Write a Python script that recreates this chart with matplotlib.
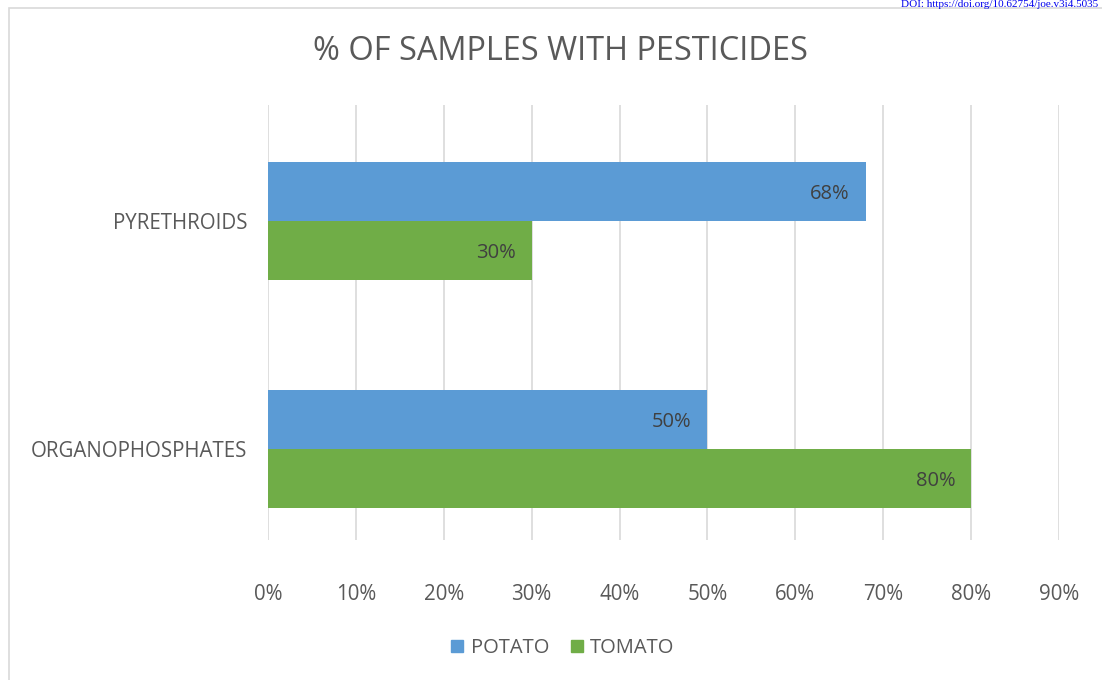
import matplotlib
matplotlib.use("Agg")
import matplotlib.pyplot as plt
from matplotlib.patches import Rectangle
import numpy as np

categories = ["ORGANOPHOSPHATES", "PYRETHROIDS"]
potato = [50, 68]
tomato = [80, 30]
series_names = ["POTATO", "TOMATO"]
xticks = [0, 10, 20, 30, 40, 50, 60, 70, 80, 90]

plt.rcParams['font.family'] = ['Open Sans', 'DejaVu Sans']
W, H = 1102, 680
fig = plt.figure(figsize=(W/100, H/100), dpi=100)

# outer chart border
fig.patches.append(Rectangle((9/W, -0.01), 1.1, 1 - 8/H + 0.01, transform=fig.transFigure,
                             fill=False, edgecolor='#D9D9D9', linewidth=1.2))
fig.text(1098/W, 1 - 7/H, "DOI: https://doi.org/10.62754/joe.v3i4.5035", fontsize=8,
         family='Liberation Serif', color='#0000EE', va='baseline', ha='right')

ax = fig.add_axes([268/W, 1 - 540/H, (1059-268)/W, (540-105)/H])
y = np.arange(len(categories))
h = 0.259
blue, green = '#5B9BD5', '#70AD47'
b1 = ax.barh(y + h/2, potato, height=h, color=blue, label=series_names[0], zorder=3)
b2 = ax.barh(y - h/2, tomato, height=h, color=green, label=series_names[1], zorder=3)

for bars, vals in ((b1, potato), (b2, tomato)):
    for bar, v in zip(bars, vals):
        ax.text(v - 1.8, bar.get_y() + bar.get_height()/2 - 0.012, f"{v}%", ha='right', va='center',
                fontsize=14.5, color='#404040', zorder=4)

ax.set_xlim(0, 90)
ax.set_ylim(-0.4, 1.509)
ax.set_xticks(xticks)
ax.set_xticklabels([f"{t}%" for t in xticks])
ax.set_yticks(y)
ax.set_yticklabels(categories)
ax.tick_params(axis='both', length=0, labelsize=14.8, labelcolor='#595959')
ax.tick_params(axis='x', pad=32)
ax.tick_params(axis='y', pad=15)
ax.grid(axis='x', color='#D9D9D9', linewidth=1.2, zorder=0)
for s in ax.spines.values():
    s.set_visible(False)

fig.text(560/W, 1 - 52/H, "% OF SAMPLES WITH PESTICIDES", ha='center', va='center',
         fontsize=23.4, color='#595959')

handles = [Rectangle((0, 0), 1, 1, color=blue), Rectangle((0, 0), 1, 1, color=green)]
fig.legend(handles, series_names, loc='center', bbox_to_anchor=(563/W, 1 - 648/H), ncol=2,
           frameon=False, fontsize=14.5, labelcolor='#595959', handlelength=0.6, handleheight=0.6,
           handletextpad=0.35, columnspacing=1.1)

fig.savefig("out.png", dpi=100)
